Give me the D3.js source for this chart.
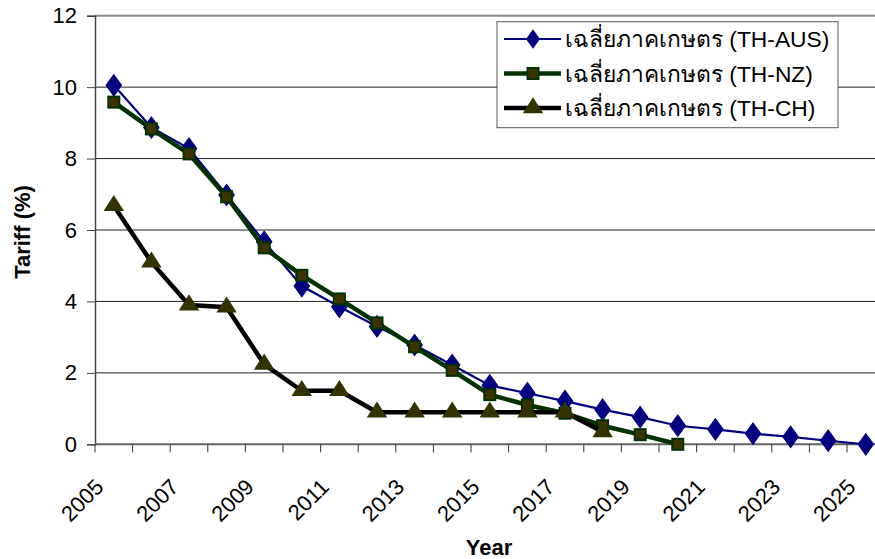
<!DOCTYPE html>
<html><head><meta charset="utf-8">
<script src="https://cdn.jsdelivr.net/npm/d3@7"></script>
<style>body{margin:0;background:#fff}svg{display:block}</style>
</head><body>
<svg id="c" width="875" height="559"></svg>
<script>
const years = d3.range(2005, 2026).map(String);
const tickLabels = ["2005","2007","2009","2011","2013","2015","2017","2019","2021","2023","2025"];
const yTicks = [0,2,4,6,8,10,12];
const seriesNames = ["เฉลี่ยภาคเกษตร (TH-AUS)","เฉลี่ยภาคเกษตร (TH-NZ)","เฉลี่ยภาคเกษตร (TH-CH)"];
const ausValues = [10.05,8.87,8.28,6.98,5.67,4.43,3.85,3.30,2.78,2.22,1.65,1.43,1.21,0.97,0.76,0.52,0.42,0.30,0.21,0.10,0.00];
const nzValues  = [9.58,8.83,8.13,6.93,5.50,4.73,4.07,3.40,2.73,2.07,1.39,1.10,0.87,0.52,0.27,0.00];
const chValues  = [6.68,5.10,3.90,3.84,2.24,1.50,1.50,0.90,0.90,0.90,0.90,0.90,0.90,0.35];

const FONT = "'Liberation Sans', Arial, sans-serif";
const svg = d3.select("#c");
const pLeft = 95, pTop = 15.7, pBottom = 444.3, band = 37.6;
const x = d3.scaleBand().domain(years).range([pLeft, pLeft + band*years.length]).padding(0);
const cx = d => x(d) + x.bandwidth()/2;
const y = d3.scaleLinear().domain([0,12]).range([pBottom, pTop]);

// gridlines
svg.append("g").selectAll("line").data(yTicks.filter(t => t>0)).join("line")
  .attr("x1", pLeft).attr("x2", 875).attr("y1", d=>y(d)).attr("y2", d=>y(d))
  .attr("stroke", d => d===12 ? "#888" : "#222").attr("stroke-width", d => d===12 ? 2 : 1);

// y axis
const ya = svg.append("g").attr("transform", `translate(${pLeft},0)`)
  .call(d3.axisLeft(y).tickValues(yTicks).tickSize(8).tickPadding(10).tickFormat(d3.format("d")));
ya.select(".domain").attr("stroke", "#444").attr("stroke-width", 1.5);
ya.selectAll(".tick line").attr("stroke", "#444");
ya.selectAll("text").attr("font-family", FONT).attr("font-size", 22).attr("fill", "#000");

// x axis line + ticks at band edges
const xa = svg.append("g").attr("transform", `translate(0,${pBottom})`);
xa.append("line").attr("x1", pLeft).attr("x2", 875).attr("stroke", "#666").attr("stroke-width", 2);
xa.selectAll("line.t").data(years).join("line").attr("class","t")
  .attr("x1", d=>x(d)).attr("x2", d=>x(d)).attr("y1", 0).attr("y2", 8).attr("stroke", "#333");
// x labels via axis
const xl = svg.append("g").attr("transform", `translate(0,${pBottom})`)
  .call(d3.axisBottom(x).tickValues(tickLabels).tickSize(0).tickPadding(0));
xl.select(".domain").remove();
xl.selectAll(".tick text")
  .attr("font-family", FONT).attr("font-size", 22).attr("fill", "#000")
  .attr("text-anchor", "end").attr("dy", null).attr("y", 0)
  .attr("transform", "translate(-9,44) rotate(-45)");

// lines
const line = vals => d3.line().x((d,i)=>cx(years[i])).y(d=>y(d))(vals);
svg.append("path").attr("d", line(ausValues)).attr("fill","none").attr("stroke","#000080").attr("stroke-width",2.2);
svg.append("g").selectAll("path").data(ausValues).join("path")
  .attr("d", d3.symbol(d3.symbolDiamond, 130)).attr("transform",(d,i)=>`translate(${cx(years[i])},${y(d)}) scale(1.25,1)`)
  .attr("fill","#000080").attr("stroke","#000080").attr("stroke-width",1);

svg.append("path").attr("d", line(nzValues)).attr("fill","none").attr("stroke","#003300").attr("stroke-width",4.5);
svg.append("g").selectAll("rect").data(nzValues).join("rect")
  .attr("x",(d,i)=>cx(years[i])-5.5).attr("y",d=>y(d)-5.5).attr("width",11).attr("height",11)
  .attr("fill","#3d3300").attr("stroke","#003300").attr("stroke-width",2);

svg.append("path").attr("d", line(chValues)).attr("fill","none").attr("stroke","#000").attr("stroke-width",4.5);
svg.append("g").selectAll("path").data(chValues).join("path")
  .attr("d", d3.symbol(d3.symbolTriangle, 150)).attr("transform",(d,i)=>`translate(${cx(years[i])},${y(d)}) scale(1.1,1)`)
  .attr("fill","#333300");

// legend
const lg = svg.append("g");
lg.append("rect").attr("x",497).attr("y",21.7).attr("width",341).attr("height",106)
  .attr("fill","#fff").attr("stroke","#555").attr("stroke-width",1);
const rows = [39, 73.5, 108];
const styles = [
  {stroke:"#000080", w:2.2}, {stroke:"#003300", w:4.5}, {stroke:"#000", w:4.5}
];
seriesNames.forEach((n,i)=>{
  lg.append("line").attr("x1",504).attr("x2",561).attr("y1",rows[i]).attr("y2",rows[i])
    .attr("stroke",styles[i].stroke).attr("stroke-width",styles[i].w);
  lg.append("text").attr("x",565).attr("y",rows[i]).attr("dy","0.36em")
    .attr("font-family",FONT).attr("font-size",22.8).text(n);
});
lg.append("path").attr("d", d3.symbol(d3.symbolDiamond,110)).attr("transform",`translate(533,${rows[0]}) scale(1.25,1)`).attr("fill","#000080");
lg.append("rect").attr("x",527.5).attr("y",rows[1]-5.5).attr("width",11).attr("height",11).attr("fill","#3d3300").attr("stroke","#003300").attr("stroke-width",2);
lg.append("path").attr("d", d3.symbol(d3.symbolTriangle,150)).attr("transform",`translate(533,${rows[2]}) scale(1.1,1)`).attr("fill","#333300");

// titles
svg.append("text").attr("x", 489).attr("y", 555).attr("text-anchor","middle")
  .attr("font-family",FONT).attr("font-size",22).attr("font-weight","bold").text("Year");
svg.append("text").attr("transform","translate(30,232) rotate(-90)").attr("text-anchor","middle")
  .attr("font-family",FONT).attr("font-size",22).attr("font-weight","bold").text("Tariff (%)");
</script>
</body></html>
